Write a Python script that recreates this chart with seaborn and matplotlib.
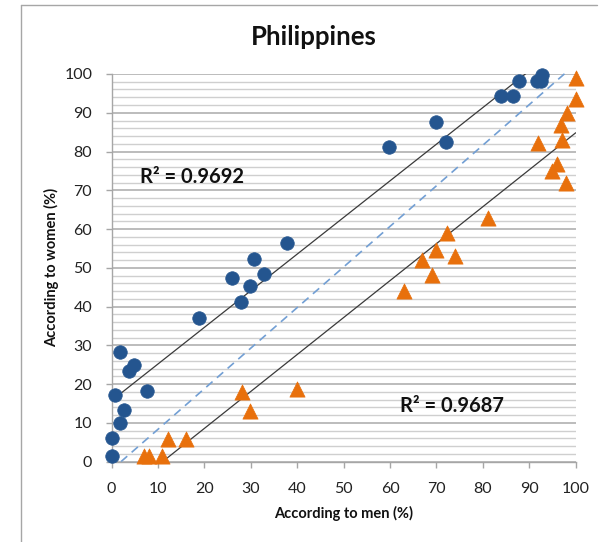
import numpy as np
import pandas as pd
import matplotlib
matplotlib.use("Agg")
import matplotlib.pyplot as plt
from matplotlib.ticker import MultipleLocator
from matplotlib.lines import Line2D
import seaborn as sns

# ---- data ----
blue_men = [0, 0, 1.8, 2.7, 0.7, 7.7, 3.8, 4.9, 1.8, 18.8, 27.9, 29.8, 26.0, 32.8,
            30.7, 37.8, 59.8, 69.9, 72.0, 83.8, 86.5, 87.7, 91.7, 92.6, 92.8]
blue_women = [1.4, 6.1, 10.1, 13.4, 17.2, 18.3, 23.3, 25.0, 28.2, 37.1, 41.1, 45.2, 47.4, 48.4,
              52.3, 56.4, 81.2, 87.5, 82.4, 94.2, 94.2, 98.3, 98.3, 98.3, 99.7]

orange_men = [7.0, 8.0, 10.9, 12.1, 16.0, 28.1, 29.9, 40.0, 63.0, 69.1, 66.8, 69.9, 74.0,
              72.3, 81.0, 91.9, 94.8, 95.9, 97.0, 96.8, 97.9, 98.1, 100, 100]
orange_women = [1.4, 1.4, 1.4, 5.8, 5.8, 17.9, 13.2, 18.8, 43.9, 48.2, 52.1, 54.7, 53.0,
                59.0, 62.9, 82.2, 74.9, 76.9, 83.1, 86.9, 71.9, 89.9, 93.6, 99.0]

ref_men = [2, 98.5]
ref_women = [0, 101]

r2_labels = ["R\u00b2 = 0.9692", "R\u00b2 = 0.9687"]
r2_pos = [(6.1, 73.5), (62.1, 14.4)]

title = "Philippines"
xlabel = "According to men (%)"
ylabel = "According to women (%)"

BLUE = "#24558f"
ORANGE = "#e8700c"

sns.set_theme(style="white")
plt.rcParams["font.family"] = ["Lato", "DejaVu Sans"]

fig = plt.figure(figsize=(6.06, 5.42), dpi=100)
ax = fig.add_axes([0.1843, 0.1482, 0.9500 - 0.1843, 0.8635 - 0.1482])

# grid
ax.yaxis.set_major_locator(MultipleLocator(10))
ax.yaxis.set_minor_locator(MultipleLocator(2))
ax.xaxis.set_major_locator(MultipleLocator(10))
ax.grid(False)
ax.grid(True, axis="y", which="minor", color="#cfcfcf", lw=1.0)
ax.grid(True, axis="y", which="major", color="#a9a9a9", lw=1.1)
ax.set_axisbelow(True)

# reference dashed line
sns.lineplot(x=ref_men, y=ref_women, ax=ax, color="#729fd4", lw=1.2,
             dashes=False, linestyle=(0, (5, 3.5)), clip_on=False)

# regression lines
sns.regplot(x=blue_men, y=blue_women, ax=ax, scatter=False, ci=None,
            line_kws=dict(color="#3a3a3a", lw=0.9))
sns.regplot(x=orange_men, y=orange_women, ax=ax, scatter=False, ci=None,
            line_kws=dict(color="#3a3a3a", lw=0.9))

# points
sns.scatterplot(x=blue_men, y=blue_women, ax=ax, marker="o", s=95, color=BLUE,
                edgecolor=BLUE, linewidth=0.5, clip_on=False, zorder=5)
sns.scatterplot(x=orange_men, y=orange_women, ax=ax, marker="^", s=120, color=ORANGE,
                edgecolor=ORANGE, linewidth=0.5, clip_on=False, zorder=5)

ax.set_xlim(0, 100)
ax.set_ylim(0, 100)

for sp in ["top", "right"]:
    ax.spines[sp].set_visible(False)
for sp in ["left", "bottom"]:
    ax.spines[sp].set_color("#a6a6a6")
    ax.spines[sp].set_linewidth(1.0)

ax.tick_params(axis="both", which="major", length=4.5, width=1.0, color="#a6a6a6",
               labelsize=11.5, labelcolor="#222222")
ax.tick_params(axis="y", which="major", left=True, pad=9.5)
ax.tick_params(axis="x", which="major", bottom=True, pad=10)
ax.tick_params(which="minor", left=False, bottom=False)

ax.set_xlabel(xlabel, fontsize=10.5, fontweight="bold", color="#111111", labelpad=7)
ax.set_ylabel(ylabel, fontsize=10.5, fontweight="bold", color="#111111", labelpad=4)
fig.text(314 / 606, 1 - 37 / 542, title, ha="center", va="center",
         fontsize=18.5, fontweight="bold", color="#111111")

for lab, (xx, yy) in zip(r2_labels, r2_pos):
    ax.text(xx, yy, lab, ha="left", va="center", fontsize=14.5, fontweight="bold",
            color="#111111", zorder=6)

# outer chart border (top and left only visible)
fig.add_artist(Line2D([21 / 606, 21 / 606], [0, 1 - 5.3 / 542], color="#a6a6a6", lw=1.0))
fig.add_artist(Line2D([21 / 606, 597 / 606], [1 - 5.3 / 542, 1 - 5.3 / 542], color="#a6a6a6", lw=1.0))

fig.savefig("out.png", dpi=100)
